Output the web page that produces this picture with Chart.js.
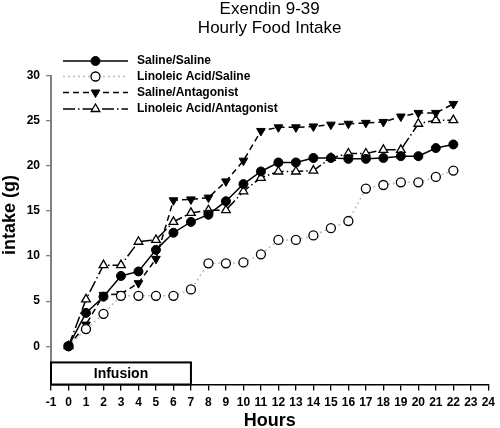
<!DOCTYPE html>
<html><head><meta charset="utf-8">
<script src="https://cdn.jsdelivr.net/npm/chart.js@4/dist/chart.umd.min.js"></script>
<style>html,body{margin:0;padding:0;background:#fff}canvas{display:block}</style>
</head><body>
<canvas id="c" width="500" height="428"></canvas>
<script>
const hours = [0,1,2,3,4,5,6,7,8,9,10,11,12,13,14,15,16,17,18,19,20,21,22];
const salineSaline = [0,3.7,5.5,7.8,8.3,10.7,12.6,13.8,14.6,16.1,18.0,19.4,20.4,20.4,20.9,20.9,20.8,20.8,20.9,21.1,21.1,22.0,22.4];
const linoleicSaline = [0,1.9,3.6,5.6,5.6,5.6,5.6,6.3,9.2,9.2,9.3,10.2,11.8,11.8,12.3,13.1,13.9,17.5,17.9,18.2,18.2,18.8,19.5];
const salineAntagonist = [0,2.4,5.7,5.8,7.0,9.7,16.2,16.3,16.5,18.3,20.6,23.9,24.3,24.3,24.4,24.6,24.7,24.8,24.9,25.5,25.9,25.9,26.9];
const linoleicAntagonist = [0,5.2,9.0,9.0,11.6,11.8,13.8,14.8,15.1,15.1,17.2,18.7,19.4,19.4,19.5,20.9,21.4,21.4,21.8,21.8,24.7,25.1,25.1];
const seriesLabels = ['Saline/Saline','Linoleic Acid/Saline','Saline/Antagonist','Linoleic Acid/Antagonist'];
const xTicks = [-1,0,1,2,3,4,5,6,7,8,9,10,11,12,13,14,15,16,17,18,19,20,21,22,23,24];
const yTicks = [0,5,10,15,20,25,30];
const infusionLabel = 'Infusion';
const infusionStart = -1, infusionEnd = 7;
const titleLines = ['Exendin 9-39','Hourly Food Intake'];
const xTitle = 'Hours';
const yTitle = 'intake (g)';

const FONT = "'Liberation Sans', Arial, sans-serif";
const pts = arr => hours.map((h,i)=>({x:h,y:arr[i]}));

const styles = [
  {borderColor:'#000', borderWidth:1.5, borderDash:[], pointStyle:'circle', pointRadius:4.5, pointBackgroundColor:'#000', pointBorderColor:'#000', pointBorderWidth:1, pointRotation:0},
  {borderColor:'#bdbdbd', borderWidth:1.5, borderDash:[2,3], pointStyle:'circle', pointRadius:4.5, pointBackgroundColor:'#fff', pointBorderColor:'#000', pointBorderWidth:1.3, pointRotation:0},
  {borderColor:'#000', borderWidth:1.5, borderDash:[6,4], pointStyle:'triangle', pointRadius:5, pointBackgroundColor:'#000', pointBorderColor:'#000', pointBorderWidth:1, pointRotation:180},
  {borderColor:'#000', borderWidth:1.5, borderDash:[12,3,1.5,3], pointStyle:'triangle', pointRadius:5, pointBackgroundColor:'#fff', pointBorderColor:'#000', pointBorderWidth:1.3, pointRotation:0}
];
const seriesData = [salineSaline, linoleicSaline, salineAntagonist, linoleicAntagonist];

const datasets = seriesData.map((d,i)=>Object.assign({label:seriesLabels[i], data:pts(d), tension:0, fill:false}, styles[i]));

const legendRows = [61, 76.5, 92.5, 109];
const legendPlugin = {
  id:'customLegend',
  afterDraw(chart){
    const ctx = chart.ctx;
    chart.data.datasets.forEach((ds,i)=>{
      const y = legendRows[i];
      ctx.save();
      ctx.strokeStyle = ds.borderColor; ctx.lineWidth = ds.borderWidth;
      ctx.setLineDash(ds.borderDash||[]);
      ctx.beginPath(); ctx.moveTo(63,y); ctx.lineTo(128,y); ctx.stroke();
      ctx.setLineDash([]);
      ctx.fillStyle = ds.pointBackgroundColor; ctx.strokeStyle = ds.pointBorderColor; ctx.lineWidth = ds.pointBorderWidth;
      Chart.helpers.drawPoint(ctx,{pointStyle:ds.pointStyle,radius:ds.pointRadius,rotation:ds.pointRotation,borderWidth:ds.pointBorderWidth},95.5,y);
      ctx.fillStyle = '#000'; ctx.font = 'bold 12px '+FONT; ctx.textBaseline='middle'; ctx.textAlign='left';
      ctx.fillText(ds.label,137,y);
      ctx.restore();
    });
  }
};

const infusionPlugin = {
  id:'infusion',
  afterDraw(chart){
    const ctx = chart.ctx, xs = chart.scales.x, ys = chart.scales.y;
    const x0 = xs.getPixelForValue(infusionStart), x1 = xs.getPixelForValue(infusionEnd);
    const y0 = ys.getPixelForValue(-1.8), y1 = chart.chartArea.bottom;
    ctx.save();
    ctx.fillStyle='#fff'; ctx.fillRect(x0,y0,x1-x0,y1-y0);
    ctx.strokeStyle='#000'; ctx.lineWidth=2; ctx.strokeRect(x0,y0,x1-x0,y1-y0);
    ctx.fillStyle='#000'; ctx.font='bold 14px '+FONT; ctx.textAlign='center'; ctx.textBaseline='middle';
    ctx.fillText(infusionLabel,(x0+x1)/2,(y0+y1)/2+0.5);
    const yc = (ys.getPixelForValue(0)+ys.getPixelForValue(30))/2 + 4;
    ctx.translate(10,yc); ctx.rotate(-Math.PI/2);
    ctx.font='bold 18px '+FONT; ctx.textAlign='center'; ctx.textBaseline='middle';
    ctx.fillText(yTitle,0,0);
    ctx.restore();
  }
};

new Chart(document.getElementById('c'),{
  type:'line',
  data:{datasets},
  plugins:[legendPlugin, infusionPlugin],
  options:{
    responsive:false, animation:false, devicePixelRatio:1,
    layout:{padding:{left:0,right:7,top:0,bottom:0}},
    plugins:{
      legend:{display:false}, tooltip:{enabled:false},
      title:{display:true, fullSize:false, text:titleLines, color:'#000',
        font:{family:FONT,size:17,weight:'normal',lineHeight:1.1}, padding:{top:0,bottom:38.6}}
    },
    scales:{
      x:{type:'linear', min:-1, max:24,
        afterBuildTicks(s){ s.ticks = xTicks.map(v=>({value:v})); },
        afterFit(s){ s.height = 43.5; },
        ticks:{autoSkip:false, maxRotation:0, padding:5, color:'#000', font:{family:FONT,size:12,weight:'bold'}},
        grid:{display:true, drawOnChartArea:false, drawTicks:true, tickLength:6, tickColor:'#000', lineWidth:1.3},
        border:{display:true, color:'#000', width:1.5},
        title:{display:true, text:xTitle, color:'#000', font:{family:FONT,size:18,weight:'bold',lineHeight:0.78}, padding:0}
      },
      y:{type:'linear', min:-4.25, max:30,
        afterBuildTicks(s){ s.ticks = yTicks.map(v=>({value:v})); },
        afterFit(s){ s.width = 51; },
        ticks:{padding:6, color:'#000', font:{family:FONT,size:12,weight:'bold'}},
        grid:{display:true, drawOnChartArea:false, drawTicks:true, tickLength:5, tickColor:'#808080', lineWidth:1.3},
        border:{display:true, color:'#808080', width:2}
      }
    }
  }
});
</script>
</body></html>
